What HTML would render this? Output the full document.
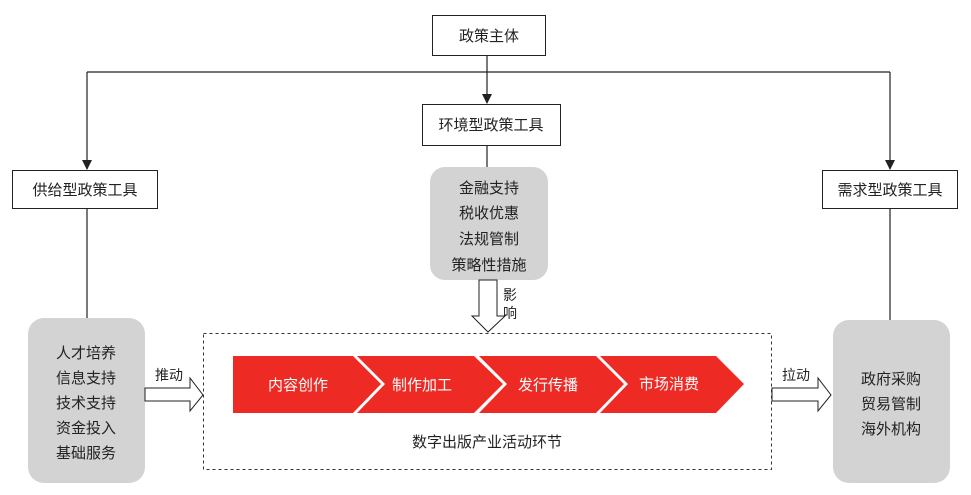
<!DOCTYPE html>
<html><head><meta charset="utf-8"><style>
body{margin:0;background:#fff;}
svg{display:block;font-family:"Liberation Sans","Noto Sans CJK SC",sans-serif;}
</style></head><body>
<svg width="971" height="495" viewBox="0 0 971 495" xmlns="http://www.w3.org/2000/svg">
<defs><marker id="a" markerWidth="10" markerHeight="10" refX="9" refY="5" orient="auto" markerUnits="userSpaceOnUse"><path d="M0,0 L10,5 L0,10 Z" fill="#222"/></marker></defs>
<g stroke="#222" stroke-width="1.2" fill="none">
<line x1="487" y1="55" x2="487" y2="103" marker-end="url(#a)"/>
<polyline points="87,72 890,72"/>
<line x1="87" y1="72" x2="87" y2="169" marker-end="url(#a)"/>
<line x1="890" y1="72" x2="890" y2="169" marker-end="url(#a)"/>
<line x1="487" y1="145" x2="487" y2="167"/>
<line x1="87" y1="208" x2="87" y2="320"/>
<line x1="890" y1="208" x2="890" y2="320"/>
</g>
<g fill="#fff" stroke="#222" stroke-width="1">
<rect x="432.5" y="15.5" width="113" height="40"/>
<rect x="422.5" y="104.5" width="138" height="41"/>
<rect x="12.5" y="170.5" width="145" height="38"/>
<rect x="822.5" y="170.5" width="135" height="38"/>
</g>
<g font-size="15" fill="#222" text-anchor="middle">
<text x="489" y="41">政策主体</text>
<text x="491" y="130">环境型政策工具</text>
<text x="85" y="195">供给型政策工具</text>
<text x="890" y="195">需求型政策工具</text>
</g>
<rect x="430" y="167" width="118" height="113" rx="15" fill="#d3d3d3"/>
<rect x="28" y="318" width="117" height="165" rx="16" fill="#d3d3d3"/>
<rect x="833" y="320" width="117" height="163" rx="16" fill="#d3d3d3"/>
<g font-size="15" fill="#222" text-anchor="middle">
<text x="489" y="193">金融支持</text>
<text x="489" y="218">税收优惠</text>
<text x="489" y="244">法规管制</text>
<text x="489" y="270">策略性措施</text>
<text x="86" y="358">人才培养</text>
<text x="86" y="383">信息支持</text>
<text x="86" y="408">技术支持</text>
<text x="86" y="433">资金投入</text>
<text x="86" y="458">基础服务</text>
<text x="891" y="384">政府采购</text>
<text x="891" y="409">贸易管制</text>
<text x="891" y="434">海外机构</text>
</g>
<rect x="203.5" y="333.5" width="568" height="136" fill="none" stroke="#333" stroke-dasharray="3,3"/>
<g fill="#fff" stroke="#222" stroke-width="1">
<path d="M479,280 L497,280 L497,316 L505,316 L488,332 L472,316 L479,316 Z"/>
<path d="M145,388 L190,388 L190,378 L203,395 L190,411 L190,401 L145,401 Z"/>
<path d="M772,388 L818,388 L818,378 L831,395 L818,411 L818,401 L772,401 Z"/>
</g>
<g font-size="14" fill="#222">
<text x="503" y="300">影</text>
<text x="503" y="318">响</text>
<text x="155" y="380">推动</text>
<text x="782" y="380">拉动</text>
</g>
<g fill="#ee2a24">
<path d="M233,356 L353,356 L381,384 L353,413 L233,413 Z"/>
<path d="M357,356 L474,356 L503,384 L474,413 L357,413 L385,384 Z"/>
<path d="M479,356 L596,356 L624,384 L596,413 L479,413 L507,384 Z"/>
<path d="M600,356 L716,356 L744,384 L716,413 L600,413 L628,384 Z"/>
</g>
<g font-size="15" fill="#fff" text-anchor="middle">
<text x="298" y="390">内容创作</text>
<text x="422" y="390">制作加工</text>
<text x="548" y="390">发行传播</text>
<text x="669" y="389">市场消费</text>
</g>
<text x="487" y="447" font-size="15" fill="#222" text-anchor="middle">数字出版产业活动环节</text>
</svg>
</body></html>
